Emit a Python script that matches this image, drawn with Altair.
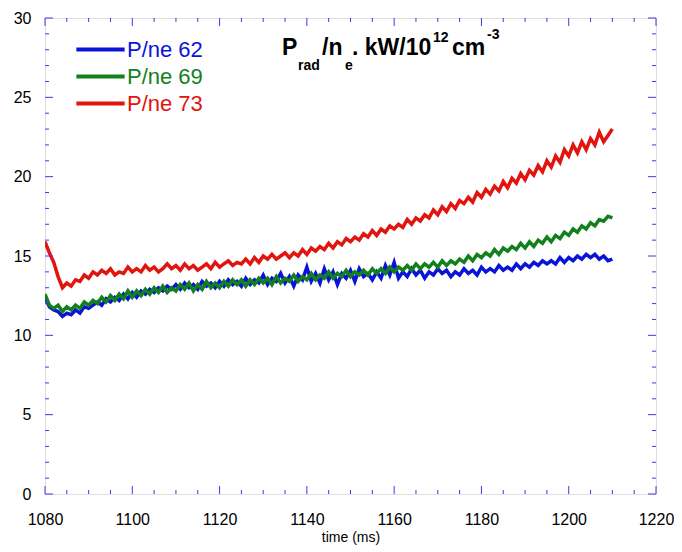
import altair as alt
import pandas as pd

# ---------------- data ----------------
time_ms = list(range(1080, 1211))

series_names = ["P/ne 62", "P/ne 69", "P/ne 73"]
series_colors = ["#0a14d8", "#12801c", "#e2140f"]

blue_62 = [
    12.4, 11.8, 11.6, 11.5, 11.2, 11.4, 11.3, 11.6, 11.4, 11.8,
    11.7, 11.9, 12.1, 11.9, 12.3, 12.1, 12.4, 12.2, 12.6, 12.3,
    12.7, 12.4, 12.8, 12.6, 12.9, 12.7, 13.0, 12.8, 13.1, 12.9,
    13.2, 12.9, 13.3, 13.0, 13.2, 12.9, 13.4, 13.1, 13.3, 13.0,
    13.4, 13.1, 13.5, 13.2, 13.4, 13.1, 13.6, 13.2, 13.5, 13.3,
    13.8, 13.2, 13.6, 13.4, 13.9, 13.3, 13.7, 13.1, 13.8, 13.5,
    14.3, 13.4, 13.9, 13.3, 14.2, 13.5, 14.0, 13.2, 13.9, 13.6,
    14.1, 13.4, 14.2, 13.7, 13.9, 13.5, 14.0, 13.6, 14.4, 13.8,
    14.6, 13.6, 14.0, 13.7, 14.2, 13.8, 14.1, 13.6, 14.0, 13.8,
    14.2, 13.9, 14.1, 13.7, 14.0, 13.8, 14.2, 13.9, 14.1, 13.8,
    14.3, 14.0, 14.2, 14.0, 14.4, 14.1, 14.3, 14.1, 14.5, 14.2,
    14.5, 14.3, 14.6, 14.4, 14.7, 14.5, 14.7, 14.5, 14.9, 14.6,
    14.9, 14.7, 15.0, 14.8, 15.1, 14.9, 15.1, 14.8, 15.0, 14.7,
    14.8,
]

green_69 = [
    12.6, 11.9, 11.7, 11.9, 11.5, 11.8, 11.6, 11.9, 11.7, 12.1,
    11.9, 12.2, 12.0, 12.4, 12.1, 12.5, 12.2, 12.6, 12.3, 12.8,
    12.4, 12.8, 12.5, 12.9, 12.6, 13.0, 12.7, 13.1, 12.7, 13.0,
    12.8, 13.2, 12.9, 13.3, 12.8, 13.2, 12.9, 13.4, 13.0, 13.3,
    13.0, 13.4, 13.1, 13.5, 13.2, 13.5, 13.1, 13.5, 13.2, 13.6,
    13.3, 13.6, 13.2, 13.7, 13.3, 13.6, 13.4, 13.8, 13.4, 13.7,
    13.5, 13.9, 13.5, 13.8, 13.6, 14.0, 13.6, 13.9, 13.7, 14.1,
    13.7, 14.0, 13.8, 14.1, 13.8, 14.2, 13.9, 14.2, 13.9, 14.3,
    14.0, 14.3, 14.1, 14.4, 14.1, 14.5, 14.2, 14.5, 14.3, 14.6,
    14.3, 14.7, 14.4, 14.7, 14.5, 14.8, 14.6, 15.0, 14.7, 15.1,
    14.9, 15.2, 15.0, 15.4, 15.1, 15.5, 15.3, 15.6, 15.4, 15.8,
    15.5, 15.9, 15.6, 16.0, 15.8, 16.2, 15.9, 16.3, 16.1, 16.5,
    16.3, 16.7, 16.5, 16.9, 16.7, 17.1, 16.9, 17.3, 17.2, 17.5,
    17.4,
]

red_73 = [
    15.9, 15.2, 14.6, 13.7, 13.0, 13.3, 13.1, 13.5, 13.4, 13.8,
    13.6, 14.0, 13.8, 14.1, 13.9, 14.2, 13.8, 14.0, 13.9, 14.3,
    14.0, 14.2, 14.0, 14.4, 14.1, 14.3, 14.0, 14.2, 14.5, 14.2,
    14.4, 14.1, 14.5, 14.2, 14.4, 14.1, 14.3, 14.5, 14.2, 14.6,
    14.3, 14.5, 14.7, 14.4, 14.6, 14.5, 14.8, 14.5, 14.9, 14.6,
    15.0, 14.8, 15.1, 14.8, 15.0, 15.2, 14.9, 15.2, 15.0, 15.4,
    15.1, 15.5, 15.3, 15.6, 15.4, 15.8, 15.5, 15.9, 15.7, 16.1,
    15.9, 16.2, 16.0, 16.4, 16.2, 16.6, 16.3, 16.7, 16.5, 16.9,
    16.7, 17.0, 16.8, 17.3, 17.0, 17.4, 17.2, 17.6, 17.4, 17.9,
    17.6, 18.1, 17.8, 18.3, 18.0, 18.5, 18.3, 18.7, 18.4, 19.0,
    18.7, 19.2, 18.9, 19.4, 19.1, 19.7, 19.3, 19.9, 19.6, 20.2,
    19.8, 20.4, 20.1, 20.7, 20.3, 21.0, 20.6, 21.3, 20.9, 21.7,
    21.3, 22.0, 21.5, 22.2, 21.7, 22.4, 22.0, 22.8, 22.2, 22.6,
    23.0,
]

x_major = [1080, 1100, 1120, 1140, 1160, 1180, 1200, 1220]
x_minor = [t for t in range(1085, 1220, 5) if t not in x_major]
y_major = [0, 5, 10, 15, 20, 25, 30]
y_minor = [v for v in range(1, 30) if v not in y_major]

# title pieces: (text, size, x, baseline y)
title_parts = [
    ("P", 23, 237, 37),
    ("rad", 14, 253, 52),
    ("/n", 23, 277, 37),
    ("e", 14, 300, 52),
    (". kW/10", 23, 307, 37),
    ("12", 14, 388, 24),
    ("cm", 23, 407, 37),
    ("-3", 14, 442, 21),
]

# ---------------- chart ----------------
W, H = 611, 476
FRAME = "#1414e6"
TICK = "#3a3ae8"
FONT = "Liberation Sans"

df = pd.DataFrame({
    "time": time_ms * 3,
    "value": blue_62 + green_69 + red_73,
    "series": [series_names[0]] * len(time_ms)
    + [series_names[1]] * len(time_ms)
    + [series_names[2]] * len(time_ms),
})

xs = alt.Scale(domain=[1080, 1220], nice=False, zero=False)
ys = alt.Scale(domain=[0, 30], nice=False, zero=True)

x_axis = alt.Axis(
    values=x_major, format="d", title="time (ms)", ticks=False,
    domain=False, grid=False, labelFontSize=16, labelColor="black",
    labelPadding=17, labelFont=FONT, labelFlush=False, labelOverlap=False,
    titleFont=FONT,
    titleFontSize=14, titleFontWeight="normal", titleColor="black",
    titleY=47, titleBaseline="alphabetic",
)
y_axis = alt.Axis(
    values=y_major, format="d", title=None, ticks=False, domain=False,
    grid=False, labelFontSize=16, labelColor="black", labelPadding=14,
    labelFont=FONT, labelFlush=False, labelOverlap=False,
)

label_color_expr = (
    f"datum.value === '{series_names[0]}' ? '{series_colors[0]}' : "
    f"datum.value === '{series_names[1]}' ? '{series_colors[1]}' : '{series_colors[2]}'"
)

lines = alt.Chart(df).mark_line(strokeWidth=3.5, clip=True).encode(
    x=alt.X("time:Q", scale=xs, axis=x_axis),
    y=alt.Y("value:Q", scale=ys, axis=y_axis),
    color=alt.Color(
        "series:N",
        scale=alt.Scale(domain=series_names, range=series_colors),
        legend=alt.Legend(
            title=None, orient="none", legendX=43, legendY=19, padding=0,
            symbolType="M-2.3,0H2.3", symbolSize=441, symbolStrokeWidth=4,
            labelFontSize=22, labelFont=FONT, labelOffset=14, rowPadding=3,
            labelLimit=300, labelColor=alt.ExprRef(expr=label_color_expr),
        ),
    ),
)


def xticks(vals, y1, y2):
    return alt.Chart(pd.DataFrame({"time": vals})).mark_rule(
        color=TICK, strokeWidth=1
    ).encode(x=alt.X("time:Q", scale=xs, axis=x_axis), y=alt.value(y1), y2=alt.value(y2))


def yticks(vals, x1, x2):
    return alt.Chart(pd.DataFrame({"value": vals})).mark_rule(
        color=TICK, strokeWidth=1
    ).encode(y=alt.Y("value:Q", scale=ys, axis=y_axis), x=alt.value(x1), x2=alt.value(x2))


ticks = [
    xticks(x_major, H, H - 8), xticks(x_minor, H, H - 4),
    xticks(x_major, 0, 8), xticks(x_minor, 0, 4),
    yticks(y_major, 0, 8), yticks(y_minor, 0, 4),
    yticks(y_major, W, W - 8), yticks(y_minor, W, W - 4),
]

texts = []
for txt, size, px, py in title_parts:
    texts.append(
        alt.Chart(pd.DataFrame({"t": [txt]})).mark_text(
            align="left", baseline="alphabetic", font=FONT, fontWeight="bold",
            fontSize=size, color="black",
        ).encode(text="t:N", x=alt.value(px), y=alt.value(py))
    )

chart = alt.layer(lines, *ticks, *texts).properties(
    width=W, height=H,
    autosize=alt.AutoSizeParams(type="none"),
    padding={"left": 37, "top": 10, "right": 18, "bottom": 56},
).configure_view(stroke=FRAME, strokeWidth=1.5).configure(font=FONT, background="white")

chart.save("out.html", embed_options={"renderer": "svg", "actions": False})
